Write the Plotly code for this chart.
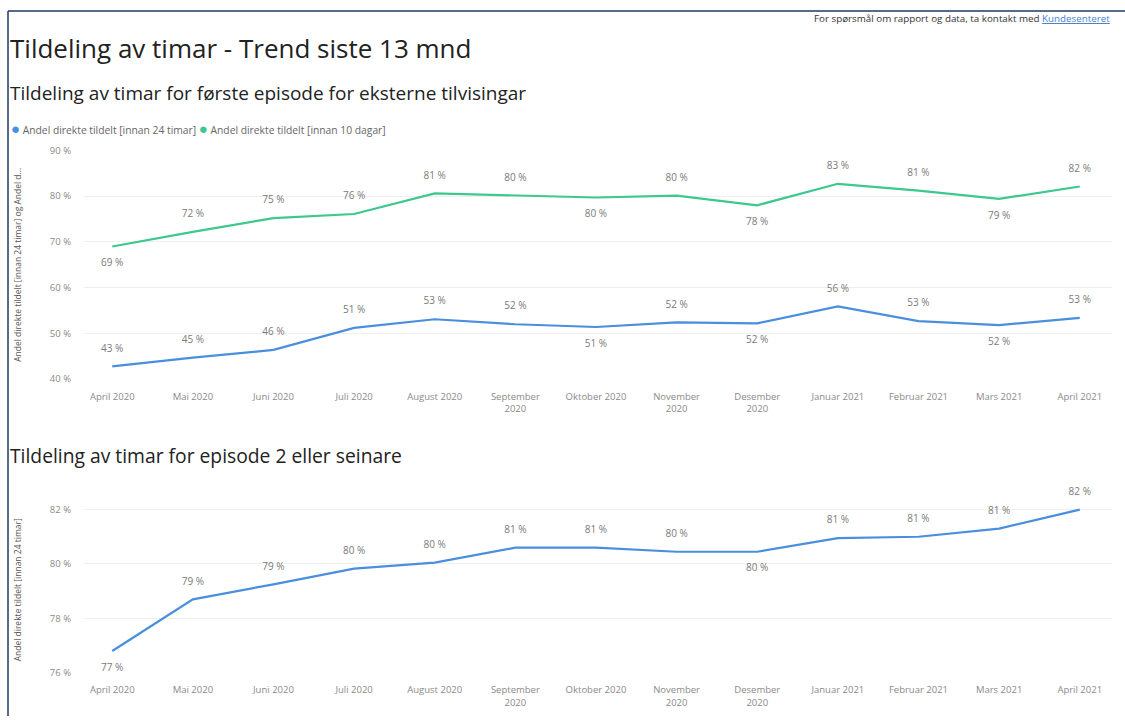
import plotly.graph_objects as go

categories = ["April 2020", "Mai 2020", "Juni 2020", "Juli 2020", "August 2020",
              "September 2020", "Oktober 2020", "November 2020", "Desember 2020",
              "Januar 2021", "Februar 2021", "Mars 2021", "April 2021"]
tick_labels = ["April 2020", "Mai 2020", "Juni 2020", "Juli 2020", "August 2020",
               "September<br>2020", "Oktober 2020", "November<br>2020", "Desember<br>2020",
               "Januar 2021", "Februar 2021", "Mars 2021", "April 2021"]

first_24t = [42.8, 44.7, 46.4, 51.2, 53.1, 52.0, 51.4, 52.4, 52.2, 55.9, 52.7, 51.8, 53.4]
first_10d = [69.0, 72.2, 75.2, 76.1, 80.6, 80.1, 79.7, 80.1, 78.0, 82.7, 81.2, 79.4, 82.1]
ep2_24t = [76.8, 78.7, 79.25, 79.83, 80.05, 80.6, 80.6, 80.45, 80.45, 80.95, 81.0, 81.3, 82.0]

top_ticks = [40, 50, 60, 70, 80, 90]
bottom_ticks = [76, 78, 80, 82]

pos_24t = ["top", "top", "top", "top", "top", "top", "bottom", "top", "bottom", "top", "top", "bottom", "top"]
pos_10d = ["bottom", "top", "top", "top", "top", "top", "bottom", "top", "bottom", "top", "top", "bottom", "top"]
pos_ep2 = ["bottom", "top", "top", "top", "top", "top", "top", "top", "bottom", "top", "top", "top", "top"]

BLUE = "#4A8FDE"
GREEN = "#3CC88E"
FONT = "Open Sans"
W, H = 1125, 722

def px_x(p):
    return p / W

def px_y(p):
    return 1 - p / H

fig = go.Figure()

def add_line(vals, positions, color, xa, ya):
    fig.add_trace(go.Scatter(
        x=list(range(len(categories))), y=vals, mode="lines+markers+text",
        line=dict(color=color, width=2.2),
        marker=dict(size=18, color="rgba(0,0,0,0)"),
        text=[f"{round(v)} %" for v in vals],
        textposition=[p + " center" for p in positions],
        textfont=dict(family=FONT, size=10, color="#7a7a7a"),
        xaxis=xa, yaxis=ya, showlegend=False, hoverinfo="skip",
        cliponaxis=False,
    ))

add_line(first_24t, pos_24t, BLUE, "x", "y")
add_line(first_10d, pos_10d, GREEN, "x", "y")
add_line(ep2_24t, pos_ep2, BLUE, "x2", "y2")

xcommon = dict(
    tickmode="array", tickvals=list(range(len(categories))), ticktext=tick_labels,
    range=[-0.35, 12.4], showgrid=False, zeroline=False, showline=False,
    tickfont=dict(family=FONT, size=9.5, color="#8a8a8a"), ticks="",
    ticklabelstandoff=10, fixedrange=True,
)
ycommon = dict(
    showgrid=True, gridcolor="#efefef", gridwidth=1, zeroline=False, showline=False,
    tickfont=dict(family=FONT, size=9.5, color="#8a8a8a"), ticks="",
    ticklabelstandoff=12, tickmode="array",
)

fig.update_layout(
    width=W, height=H,
    margin=dict(l=0, r=0, t=0, b=0),
    paper_bgcolor="white", plot_bgcolor="white",
    font=dict(family=FONT),
    xaxis=dict(domain=[px_x(84), px_x(1112)], anchor="y", **xcommon),
    yaxis=dict(domain=[px_y(379), px_y(146)], anchor="x", range=[40, 90],
               tickvals=top_ticks, ticktext=[f"{t} %" for t in top_ticks],
               title=dict(text="Andel direkte tildelt [innan 24 timar] og Andel d...",
                          font=dict(family=FONT, size=8.5, color="#555"), standoff=26),
               **ycommon),
    xaxis2=dict(domain=[px_x(84), px_x(1112)], anchor="y2", **xcommon),
    yaxis2=dict(domain=[px_y(678), px_y(509)], anchor="x2", range=[76, 82.1],
                tickvals=bottom_ticks, ticktext=[f"{t} %" for t in bottom_ticks],
                title=dict(text="Andel direkte tildelt [innan 24 timar]",
                           font=dict(family=FONT, size=8.5, color="#555"), standoff=26),
                **ycommon),
)

annotations = [
    dict(text="Tildeling av timar - Trend siste 13 mnd", x=px_x(8), y=px_y(42),
         font=dict(family=FONT, size=26, color="#222"), xanchor="left", yanchor="middle"),
    dict(text="Tildeling av timar for første episode for eksterne tilvisingar", x=px_x(8), y=px_y(88),
         font=dict(family=FONT, size=19, color="#222"), xanchor="left", yanchor="middle"),
    dict(text="Tildeling av timar for episode 2 eller seinare", x=px_x(8), y=px_y(457),
         font=dict(family=FONT, size=19.3, color="#222"), xanchor="left", yanchor="middle"),
    dict(text=f"<span style='color:{BLUE};font-size:15px'>●</span> Andel direkte tildelt [innan 24 timar] "
              f"<span style='color:{GREEN};font-size:15px'>●</span> Andel direkte tildelt [innan 10 dagar]",
         x=px_x(9), y=px_y(123), font=dict(family=FONT, size=10.3, color="#666"),
         xanchor="left", yanchor="middle"),
    dict(text="For spørsmål om rapport og data, ta kontakt med "
              "<span style='color:#4a7fd0'><u>Kundesenteret</u></span>",
         x=px_x(1112), y=px_y(12), font=dict(family=FONT, size=9.8, color="#333"),
         xanchor="right", yanchor="middle"),
]
for a in annotations:
    a.update(xref="paper", yref="paper", showarrow=False)
fig.update_layout(annotations=annotations)

fig.update_layout(shapes=[
    dict(type="line", xref="paper", yref="paper", x0=px_x(8), x1=px_x(8), y0=0, y1=px_y(4),
         line=dict(color="#1f3a60", width=1.5)),
    dict(type="line", xref="paper", yref="paper", x0=px_x(8), x1=1, y0=px_y(4), y1=px_y(4),
         line=dict(color="#1f3a60", width=1.5)),
])

fig.write_html("out.html", config={"displayModeBar": False})
